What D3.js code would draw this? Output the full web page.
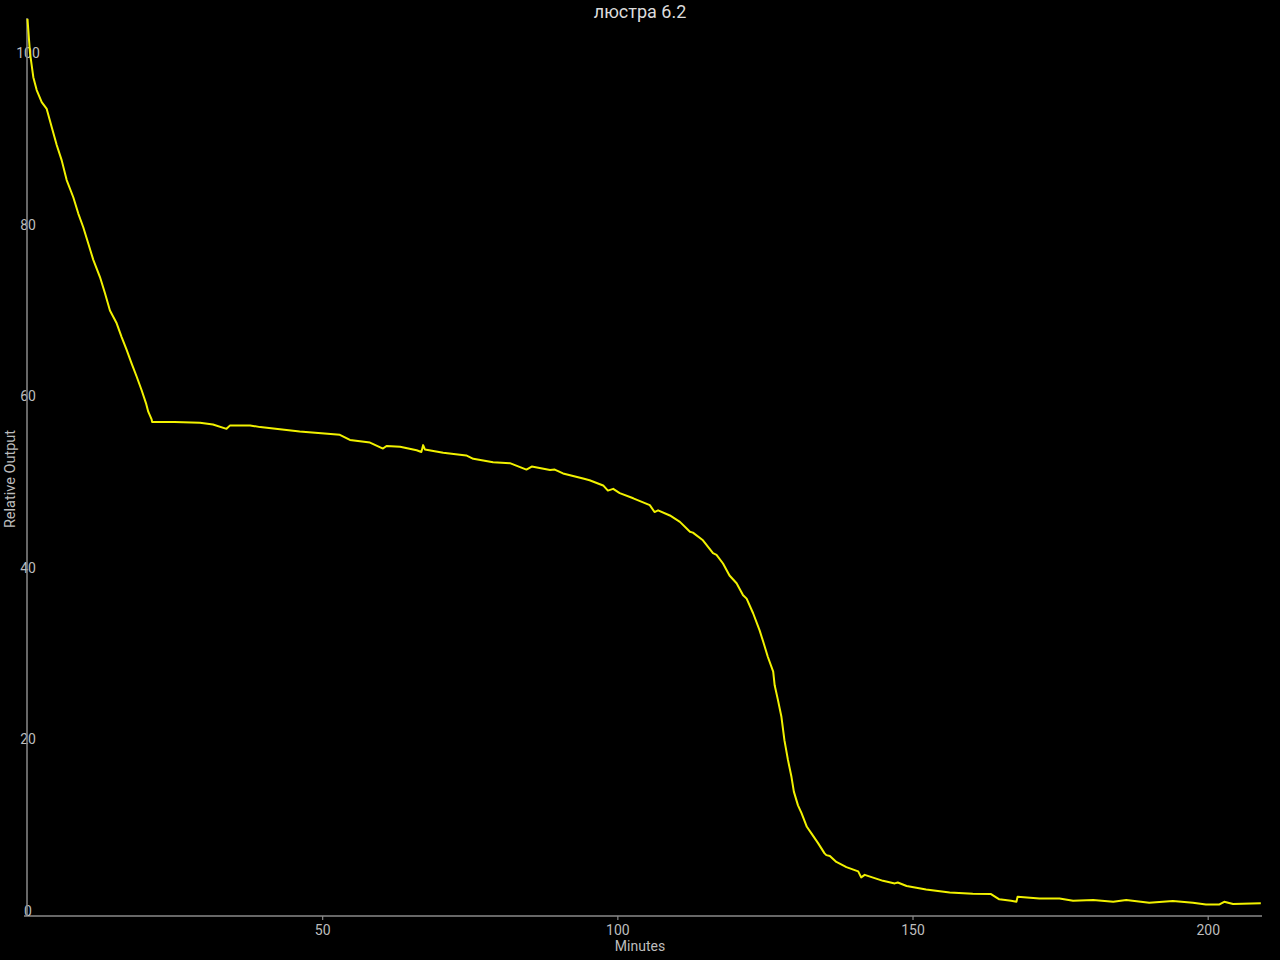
<!DOCTYPE html>
<html>
<head>
<meta charset="utf-8">
<script src="https://cdn.jsdelivr.net/npm/d3@7"></script>
<style>
  html, body { margin: 0; padding: 0; background: #000; }
  svg { display: block; }
</style>
</head>
<body>
<svg id="chart" width="1280" height="960"></svg>
<script>
const title = "люстра 6.2";
const xLabel = "Minutes";
const yLabel = "Relative Output";
const xTicks = [50, 100, 150, 200];
const yTicks = [0, 20, 40, 60, 80, 100];

const minutes = [
  0.08, 0.51, 1.07, 1.64, 2.49, 3.34, 4.18, 5.03, 5.88, 6.72, 7.84, 8.69, 9.53, 10.38, 11.23,
  12.36, 13.21, 14.05, 15.19, 16.03, 16.88, 17.73, 18.57, 19.42, 20.15, 20.54, 21.11, 21.2,
  25.0, 29.3, 31.5, 33.8, 34.4, 37.8, 39.5, 46.2, 53.0, 54.7, 58.1, 60.3, 60.9, 63.2, 66.0,
  66.8, 67.1, 67.4, 70.5, 74.4, 75.6, 78.95, 81.8, 84.6, 85.5, 88.6, 89.4, 90.8, 94.2, 95.3,
  97.6, 98.4, 99.3, 100.4, 102.7, 105.5, 106.3, 106.9, 108.9, 110.6, 112.3, 112.8, 114.5,
  116.2, 116.8, 117.9, 119.0, 120.2, 121.3, 121.9, 123.0, 124.1, 124.7, 125.5, 126.4,
  126.65, 127.2, 127.8, 128.3, 128.9, 129.5, 129.9, 130.6, 131.2, 132.1, 132.9, 134.0,
  135.1, 135.4, 136.0, 137.1, 138.8, 140.8, 141.3, 141.9, 145.0, 147.0, 147.5, 149.0,
  152.3, 156.3, 160.2, 163.3, 164.7, 166.7, 167.6, 167.8, 171.5, 174.9, 177.2, 180.6,
  184.0, 186.2, 190.1, 194.1, 197.5, 199.7, 202.0, 202.8, 204.3, 209.0
];
const output = [
  104.6, 100.6, 97.8, 96.3, 94.9, 94.1, 92.0, 89.9, 88.1, 85.8, 83.8, 81.9, 80.3, 78.4, 76.5,
  74.5, 72.6, 70.6, 69.1, 67.5, 66.0, 64.4, 62.9, 61.3, 59.8, 58.8, 57.9, 57.6,
  57.6, 57.5, 57.3, 56.8, 57.2, 57.2, 57.0, 56.5, 56.1, 55.5, 55.2, 54.5, 54.8, 54.7, 54.3,
  54.1, 54.9, 54.4, 54.0, 53.7, 53.3, 52.9, 52.8, 52.05, 52.4, 52.0, 52.05, 51.6, 51.0, 50.8,
  50.2, 49.6, 49.8, 49.3, 48.7, 47.9, 47.1, 47.3, 46.7, 45.95, 44.8, 44.7, 43.8,
  42.3, 42.1, 41.1, 39.7, 38.8, 37.4, 37.0, 35.3, 33.3, 32.0, 30.2, 28.5,
  26.9, 25.2, 23.2, 20.5, 18.2, 16.2, 14.5, 12.9, 12.0, 10.4, 9.6, 8.5,
  7.3, 7.1, 7.0, 6.3, 5.7, 5.2, 4.5, 4.8, 4.1, 3.8, 3.9, 3.5,
  3.1, 2.75, 2.6, 2.56, 1.94, 1.78, 1.67, 2.25, 2.05, 2.05, 1.78, 1.86,
  1.66, 1.86, 1.55, 1.75, 1.55, 1.35, 1.35, 1.66, 1.4, 1.48
];

const svg = d3.select("#chart");
const W = 1280, H = 960;
const plotLeft = 27, plotRight = 1262, plotTop = 18, plotBottom = 916;

const x = d3.scaleLinear().domain([0, 209.2]).range([plotLeft, plotRight]);
const y = d3.scaleLinear().domain([0, 104.7]).range([plotBottom, plotTop]);

const axisColor = "#8a8a8a";
const textColor = "#bdbdbd";
const font = "Roboto, 'Noto Sans', sans-serif";

// title
svg.append("text")
  .attr("x", W / 2).attr("y", 18)
  .attr("text-anchor", "middle")
  .attr("fill", "#dcdcdc")
  .style("font-family", font).style("font-size", "18px")
  .text(title);

// x axis
const xAxis = svg.append("g")
  .attr("transform", `translate(0,${plotBottom})`)
  .call(d3.axisBottom(x).tickValues(xTicks).tickSize(4).tickSizeOuter(0).tickPadding(5));
xAxis.select(".domain").remove();
xAxis.append("line")
  .attr("x1", 24).attr("x2", plotRight).attr("y1", 0).attr("y2", 0)
  .attr("stroke", axisColor).attr("stroke-width", 1.5);
xAxis.selectAll(".tick line").attr("stroke", axisColor).attr("stroke-width", 1.2);
xAxis.selectAll(".tick text")
  .attr("fill", textColor)
  .style("font-family", font).style("font-size", "14px");

// y axis
const yAxis = svg.append("g")
  .attr("transform", `translate(${plotLeft},0)`)
  .call(d3.axisLeft(y).tickValues(yTicks).tickSize(0).tickPadding(0));
yAxis.select(".domain").remove();
yAxis.append("line")
  .attr("x1", 0).attr("x2", 0).attr("y1", plotTop).attr("y2", plotBottom)
  .attr("stroke", axisColor).attr("stroke-width", 1.5);
yAxis.selectAll(".tick text")
  .attr("x", 1)
  .attr("dy", "-0.5")
  .attr("text-anchor", "middle")
  .attr("fill", textColor)
  .style("font-family", font).style("font-size", "14px");

// axis labels
svg.append("text")
  .attr("x", 640).attr("y", 951)
  .attr("text-anchor", "middle")
  .attr("fill", textColor)
  .style("font-family", font).style("font-size", "14px")
  .text(xLabel);

svg.append("text")
  .attr("transform", "translate(15,479) rotate(-90)")
  .attr("text-anchor", "middle")
  .attr("fill", textColor)
  .style("font-family", font).style("font-size", "14.5px")
  .text(yLabel);

// line
const data = minutes.map((m, i) => ({ t: m, v: output[i] }));
const line = d3.line().x(d => x(d.t)).y(d => y(d.v));
svg.append("path")
  .datum(data)
  .attr("d", line)
  .attr("fill", "none")
  .attr("stroke", "#f2f200")
  .attr("stroke-width", 2)
  .attr("stroke-linejoin", "round");
</script>
</body>
</html>
